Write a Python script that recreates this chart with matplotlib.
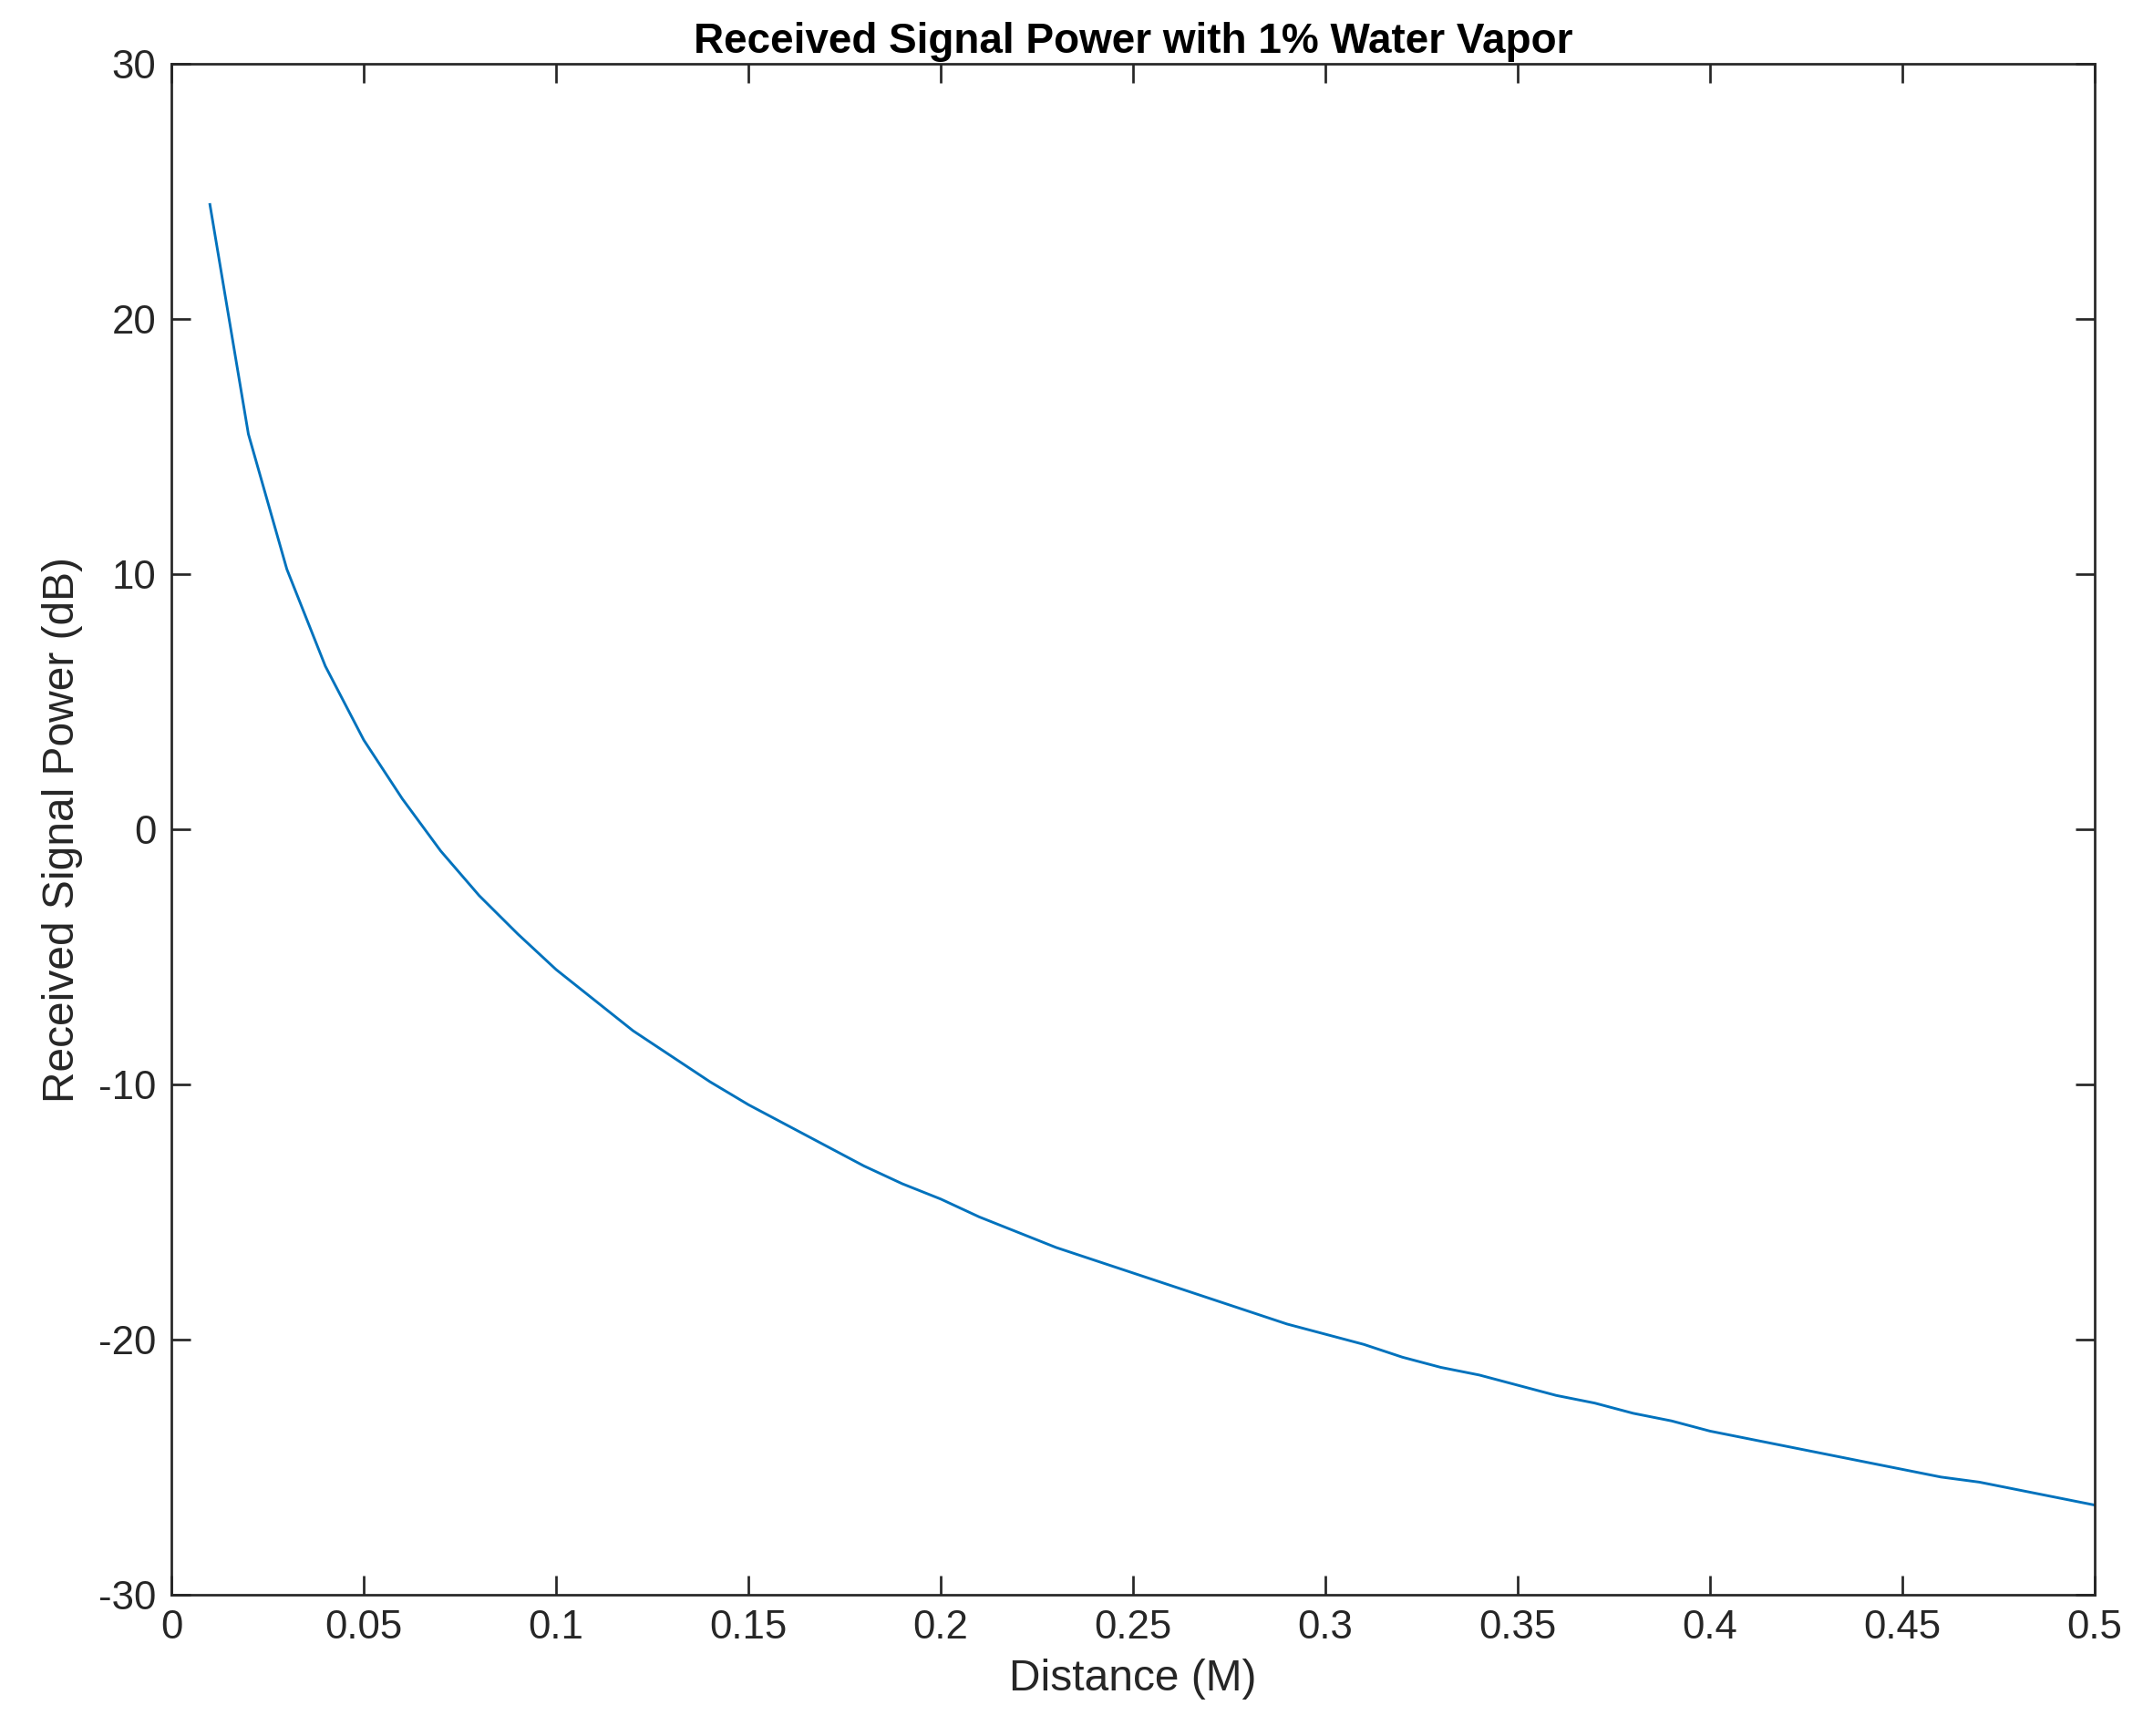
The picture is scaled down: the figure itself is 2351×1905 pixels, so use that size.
import matplotlib
matplotlib.use("Agg")
import matplotlib.pyplot as plt

plt.rcParams['font.family'] = ['Liberation Sans', 'DejaVu Sans']
plt.rcParams['axes.unicode_minus'] = False

distance = [0.01,0.02,0.03,0.04,0.05,0.06,0.07,0.08,0.09,0.10,
            0.11,0.12,0.13,0.14,0.15,0.16,0.17,0.18,0.19,0.20,
            0.21,0.22,0.23,0.24,0.25,0.26,0.27,0.28,0.29,0.30,
            0.31,0.32,0.33,0.34,0.35,0.36,0.37,0.38,0.39,0.40,
            0.41,0.42,0.43,0.44,0.45,0.46,0.47,0.48,0.49,0.50]
power = [24.5,15.5,10.2,6.4,3.5,1.2,-0.85,-2.6,-4.1,-5.5,
         -6.7,-7.9,-8.9,-9.9,-10.8,-11.6,-12.4,-13.2,-13.9,-14.5,
         -15.2,-15.8,-16.4,-16.9,-17.4,-17.9,-18.4,-18.9,-19.4,-19.8,
         -20.2,-20.7,-21.1,-21.4,-21.8,-22.2,-22.5,-22.9,-23.2,-23.6,
         -23.9,-24.2,-24.5,-24.8,-25.1,-25.4,-25.6,-25.9,-26.2,-26.5]
xticks = [0,0.05,0.1,0.15,0.2,0.25,0.3,0.35,0.4,0.45,0.5]
xticklabels = ['0','0.05','0.1','0.15','0.2','0.25','0.3','0.35','0.4','0.45','0.5']
yticks = [-30,-20,-10,0,10,20,30]

fig = plt.figure(figsize=(2351/150, 1905/150), dpi=150)
ax = fig.add_axes([0.080, 0.0816, 0.8975, 0.8814])
ax.plot(distance, power, color='#0072BD', linewidth=1.4)
ax.set_xlim(0, 0.5)
ax.set_ylim(-30, 30)
ax.set_xticks(xticks)
ax.set_xticklabels(xticklabels)
ax.set_yticks(yticks)
ax.tick_params(direction='in', top=True, right=True, labelsize=21, length=10, width=1.3, colors='#262626', pad=8)
for s in ax.spines.values():
    s.set_linewidth(1.3)
    s.set_color('#262626')
ax.set_xlabel('Distance (M)', fontsize=23, color='#262626', labelpad=6)
ax.set_ylabel('Received Signal Power (dB)', fontsize=23, color='#262626', labelpad=8)
ax.set_title('Received Signal Power with 1% Water Vapor', fontsize=22, fontweight='bold', pad=6)
fig.savefig('out.png', dpi=150)
